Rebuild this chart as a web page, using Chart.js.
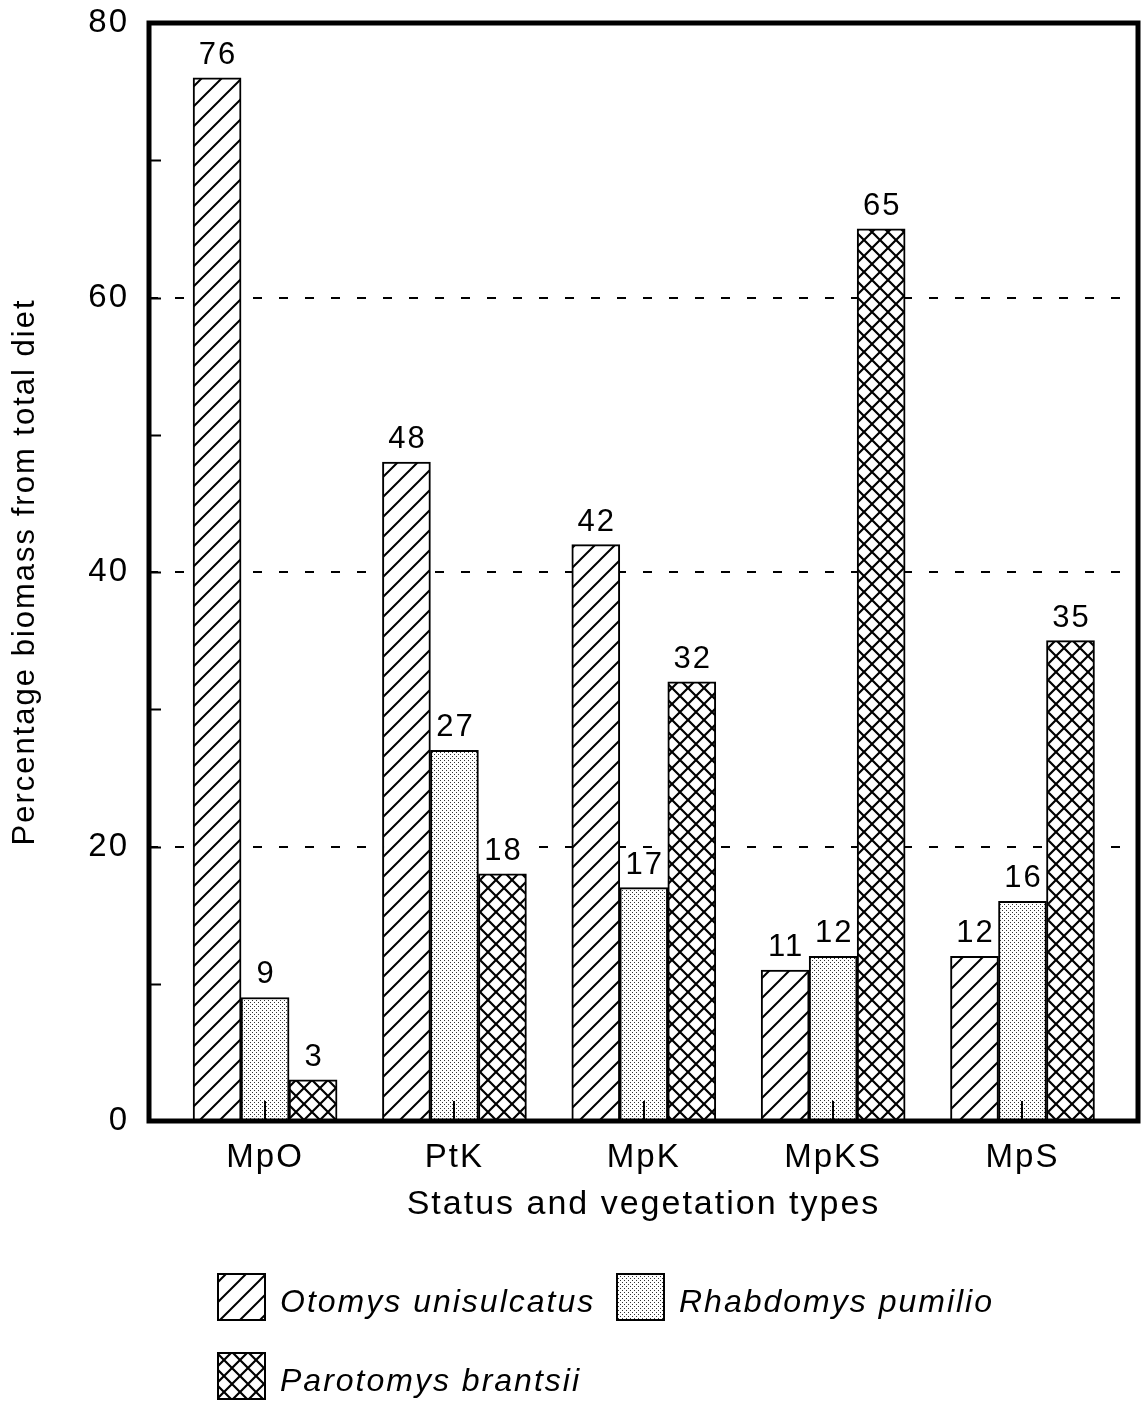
<!DOCTYPE html>
<html>
<head>
<meta charset="utf-8">
<script src="https://cdn.jsdelivr.net/npm/chart.js@4"></script>
<style>
  body { margin: 0; background: #fff; }
  canvas { display: block; }
</style>
</head>
<body>
<canvas id="diet-chart" width="1141" height="1401"></canvas>
<script>
var categories = ['MpO', 'PtK', 'MpK', 'MpKS', 'MpS'];
var speciesNames = ['Otomys unisulcatus', 'Rhabdomys pumilio', 'Parotomys brantsii'];
var otomysValues = [76, 48, 42, 11, 12];
var rhabdomysValues = [9, 27, 17, 12, 16];
var parotomysValues = [3, 18, 32, 65, 35];
var yTicks = [0, 20, 40, 60, 80];
var dashedTicks = [20, 40, 60];
var minorTicks = [10, 20, 30, 40, 50, 60, 70];

var FONT = "'Liberation Sans', Arial, sans-serif";

// fill patterns
function makeTile(size, draw) {
  var c = document.createElement('canvas');
  c.width = size; c.height = size;
  var g = c.getContext('2d');
  g.fillStyle = '#fff';
  g.fillRect(0, 0, size, size);
  draw(g, size);
  return g.createPattern(c, 'repeat');
}

var hatch = makeTile(20, function (g, s) {
  g.strokeStyle = '#000';
  g.lineWidth = 2;
  g.beginPath();
  g.moveTo(-2, s + 2); g.lineTo(s + 2, -2);
  g.moveTo(-2, 2); g.lineTo(2, -2);
  g.moveTo(s - 2, s + 2); g.lineTo(s + 2, s - 2);
  g.stroke();
});

var cross = makeTile(16, function (g, s) {
  g.strokeStyle = '#000';
  g.lineWidth = 2.2;
  g.beginPath();
  g.moveTo(-2, s + 2); g.lineTo(s + 2, -2);
  g.moveTo(-2, 2); g.lineTo(2, -2);
  g.moveTo(s - 2, s + 2); g.lineTo(s + 2, s - 2);
  g.moveTo(-2, -2); g.lineTo(s + 2, s + 2);
  g.moveTo(s - 2, -2); g.lineTo(s + 2, 2);
  g.moveTo(-2, s - 2); g.lineTo(2, s + 2);
  g.stroke();
});

var stipple = makeTile(4, function (g) {
  g.fillStyle = '#333';
  g.fillRect(0, 0, 1, 1);
  g.fillRect(2, 2, 1, 1);
});

function toPoints(values) {
  return values.map(function (v, i) { return { x: i, y: v }; });
}

var spacingPlugin = {
  id: 'spacing',
  beforeUpdate: function (chart) { chart.ctx.letterSpacing = '2px'; },
  beforeDraw: function (chart) { chart.ctx.letterSpacing = '2px'; }
};

var framePlugin = {
  id: 'frame',
  afterDatasetsDraw: function (chart) {
    var ctx = chart.ctx, a = chart.chartArea;
    var xs = chart.scales.x, ys = chart.scales.y;
    ctx.save();
    ctx.strokeStyle = '#000';
    // value labels, on a white patch like the original
    ctx.font = '31px ' + FONT;
    ctx.textAlign = 'center';
    ctx.textBaseline = 'alphabetic';
    chart.data.datasets.forEach(function (ds, di) {
      chart.getDatasetMeta(di).data.forEach(function (bar, i) {
        var txt = String(ds.data[i].y);
        var w = ctx.measureText(txt).width;
        ctx.fillStyle = '#fff';
        ctx.fillRect(bar.x - w / 2 - 2, bar.y - 38, w + 4, 27);
        ctx.fillStyle = '#000';
        ctx.fillText(txt, bar.x + 1, bar.y - 14);
      });
    });
    // inner ticks on the y axis
    ctx.lineWidth = 2;
    ctx.beginPath();
    minorTicks.forEach(function (v) {
      var y = Math.round(ys.getPixelForValue(v)) + 0.5;
      ctx.moveTo(a.left, y);
      ctx.lineTo(a.left + 12, y);
    });
    // group ticks on the x axis
    categories.forEach(function (c, i) {
      var x = Math.round(xs.getPixelForValue(i));
      ctx.moveTo(x, a.bottom);
      ctx.lineTo(x, a.bottom - 20);
    });
    ctx.stroke();
    // frame
    ctx.lineWidth = 5;
    ctx.strokeRect(a.left, a.top, a.right - a.left, a.bottom - a.top);
    ctx.restore();
  }
};

var legendPlugin = {
  id: 'boxLegend',
  afterDraw: function (chart) {
    var ctx = chart.ctx;
    var spots = [[218, 1274], [617, 1274], [218, 1353]];
    ctx.save();
    ctx.font = 'italic 32px ' + FONT;
    ctx.textAlign = 'left';
    ctx.textBaseline = 'alphabetic';
    chart.data.datasets.forEach(function (ds, i) {
      var p = spots[i];
      ctx.fillStyle = ds.backgroundColor;
      ctx.fillRect(p[0], p[1], 47, 46);
      ctx.lineWidth = 2;
      ctx.strokeStyle = '#000';
      ctx.strokeRect(p[0], p[1], 47, 46);
      ctx.fillStyle = '#000';
      ctx.fillText(ds.label, p[0] + 62, p[1] + 38);
    });
    ctx.restore();
  }
};

var dietConfig = {
  type: 'bar',
  data: {
    datasets: [{
      label: speciesNames[0],
      data: toPoints(otomysValues),
      backgroundColor: hatch,
      borderColor: '#000',
      borderWidth: 2
    }, {
      label: speciesNames[1],
      data: toPoints(rhabdomysValues),
      backgroundColor: stipple,
      borderColor: '#000',
      borderWidth: 2
    }, {
      label: speciesNames[2],
      data: toPoints(parotomysValues),
      backgroundColor: cross,
      borderColor: '#000',
      borderWidth: 2
    }]
  },
  options: {
    responsive: false,
    animation: false,
    devicePixelRatio: 1,
    barThickness: 48,
    layout: {
      padding: { top: 23, right: 3, bottom: 176, left: 0 }
    },
    plugins: {
      legend: { display: false },
      tooltip: { enabled: false }
    },
    scales: {
      x: {
        type: 'linear',
        offset: false,
        min: -0.613,
        max: 4.61,
        afterBuildTicks: function (scale) {
          scale.ticks = categories.map(function (c, i) { return { value: i }; });
        },
        afterFit: function (scale) { scale.height = 104; },
        grid: { display: false, drawTicks: false },
        border: { display: false },
        ticks: {
          autoSkip: false,
          maxRotation: 0,
          padding: 17,
          color: '#000',
          font: { family: FONT, size: 33 },
          callback: function (value) { return categories[Math.round(value)]; }
        },
        title: {
          display: true,
          text: 'Status and vegetation types',
          color: '#000',
          padding: { top: 0, bottom: 0 },
          font: { family: FONT, size: 34 }
        }
      },
      y: {
        min: 0,
        max: 80,
        afterBuildTicks: function (scale) {
          scale.ticks = yTicks.map(function (v) { return { value: v }; });
        },
        afterFit: function (scale) {
          scale.width = 149;
          scale.paddingTop = 0;
          scale.paddingBottom = 0;
        },
        grid: {
          drawTicks: false,
          lineWidth: 2,
          color: function (c) {
            return c.tick && dashedTicks.indexOf(c.tick.value) >= 0 ? '#000' : 'rgba(0,0,0,0)';
          }
        },
        border: { display: false, dash: [9, 17] },
        ticks: {
          padding: 20,
          color: '#000',
          font: { family: FONT, size: 33 }
        },
        title: {
          display: true,
          text: 'Percentage biomass from total diet',
          color: '#000',
          padding: { top: 7, bottom: 0 },
          font: { family: FONT, size: 31 }
        }
      }
    }
  },
  plugins: [spacingPlugin, framePlugin, legendPlugin]
};

window.onload = function () {
  var ctx = document.getElementById('diet-chart').getContext('2d');
  window.dietChart = new Chart(ctx, dietConfig);
};
</script>
</body>
</html>
